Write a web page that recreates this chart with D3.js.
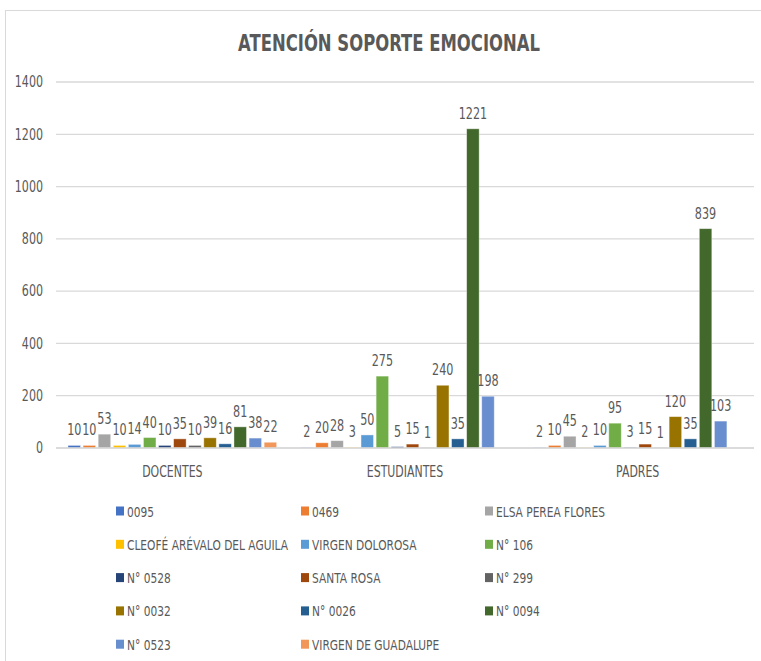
<!DOCTYPE html>
<html>
<head>
<meta charset="utf-8">
<script src="https://cdn.jsdelivr.net/npm/d3@7"></script>
<style>
  body { margin: 0; background: #fff; }
  text { font-family: "DejaVu Sans", sans-serif; fill: #595959; }
</style>
</head>
<body>
<svg id="chart"></svg>
<script>
// categories and series
let categories = ['DOCENTES', 'ESTUDIANTES', 'PADRES'];
let seriesNames = ['0095', '0469', 'ELSA PEREA FLORES', 'CLEOFÉ ARÉVALO DEL AGUILA', 'VIRGEN DOLOROSA', 'N° 106',
  'N° 0528', 'SANTA ROSA', 'N° 299', 'N° 0032', 'N° 0026', 'N° 0094', 'N° 0523', 'VIRGEN DE GUADALUPE'];
let seriesColors = ['#4472C4', '#ED7D31', '#A5A5A5', '#FFC000', '#5B9BD5', '#70AD47',
  '#264478', '#9E480E', '#636363', '#997300', '#255E91', '#43682B', '#698ED0', '#F1975A'];

// values per category, in series order (null = no value)
let docentes = [10, 10, 53, 10, 14, 40, 10, 35, 10, 39, 16, 81, 38, 22];
let estudiantes = [2, 20, 28, 3, 50, 275, 5, 15, 1, 240, 35, 1221, 198, null];
let padres = [2, 10, 45, 2, 10, 95, 3, 15, 1, 120, 35, 839, 103, null];

let yTicks = [0, 200, 400, 600, 800, 1000, 1200, 1400];

let values = [docentes, estudiantes, padres];

let width = 761, height = 661;
let margin = { top: 82, left: 56, right: 7, bottom: 213 };

let svg = d3.select('#chart').attr('width', width).attr('height', height);

// squeeze text horizontally around its x so it looks like the narrow office font
function squeeze(sel, k) {
  sel.each(function() {
    let x = +this.getAttribute('x') || 0;
    this.setAttribute('transform', `translate(${x},0) scale(${k},1) translate(${-x},0)`);
  });
}

// chart border
svg.append('rect')
  .attr('x', 5.5).attr('y', 10.5)
  .attr('width', 800).attr('height', 700)
  .attr('fill', 'none').attr('stroke', '#d9d9d9');

let title = svg.append('text')
  .attr('x', 389).attr('y', 51)
  .attr('text-anchor', 'middle')
  .style('font-size', '23px').style('font-weight', 'bold')
  .text('ATENCIÓN SOPORTE EMOCIONAL');
squeeze(title, 0.715);

let x0 = d3.scaleBand()
  .domain(categories)
  .range([margin.left, width - margin.right]);

let x1 = d3.scaleBand()
  .domain(seriesNames)
  .range([12, x0.bandwidth() - 12])
  .paddingInner(0.17);

let y = d3.scaleLinear()
  .domain([0, 1400])
  .range([height - margin.bottom, margin.top]);

// gridlines
svg.append('g')
  .selectAll('line')
  .data(yTicks)
  .enter().append('line')
  .attr('x1', margin.left).attr('x2', width - margin.right)
  .attr('y1', d => y(d)).attr('y2', d => y(d))
  .attr('stroke', '#d9d9d9').attr('stroke-width', 1.3);

// y axis labels
let axisY = d3.axisLeft(y).tickValues(yTicks).tickFormat(d3.format('d')).tickSize(0).tickPadding(13);
let gY = svg.append('g')
  .attr('transform', `translate(${margin.left},0)`)
  .call(axisY);
gY.select('.domain').remove();
gY.selectAll('text').style('font-size', '15px').style('font-family', null).attr('fill', '#595959');
squeeze(gY.selectAll('text'), 0.74);

// x axis labels
let axisX = d3.axisBottom(x0).tickSize(0).tickPadding(18);
let gX = svg.append('g')
  .attr('transform', `translate(0,${y(0)})`)
  .call(axisX);
gX.select('.domain').remove();
gX.selectAll('text').style('font-size', '15px').style('font-family', null).attr('fill', '#595959');
squeeze(gX.selectAll('text'), 0.73);

// bars
let groups = svg.append('g')
  .selectAll('g')
  .data(categories)
  .enter().append('g')
  .attr('transform', d => `translate(${x0(d)},0)`);

let cells = groups.selectAll('g.cell')
  .data((c, i) => values[i].map((v, j) => ({ name: seriesNames[j], color: seriesColors[j], value: v })))
  .enter().append('g').attr('class', 'cell');

cells.filter(d => d.value !== null)
  .append('rect')
  .attr('x', d => x1(d.name))
  .attr('width', x1.bandwidth())
  .attr('y', d => y(d.value))
  .attr('height', d => y(0) - y(d.value))
  .attr('fill', d => d.color)
  .attr('stroke', '#fff').attr('stroke-opacity', 0.5).attr('stroke-width', 0.8);

let labels = cells.filter(d => d.value !== null)
  .append('text')
  .attr('x', d => x1(d.name) + x1.bandwidth() / 2)
  .attr('y', d => y(d.value) - 10)
  .attr('text-anchor', 'middle')
  .style('font-size', '16px')
  .text(d => d.value);
squeeze(labels, 0.7);

// 0 axis line
svg.append('line')
  .attr('x1', margin.left).attr('x2', width - margin.right)
  .attr('y1', y(0)).attr('y2', y(0))
  .attr('stroke', '#d9d9d9').attr('stroke-width', 1.5);

// legend
let legendCols = [116, 301, 485];
let legend = svg.append('g')
  .selectAll('g')
  .data(seriesNames)
  .enter().append('g')
  .attr('transform', (d, i) => `translate(${legendCols[i % 3]},${511 + Math.floor(i / 3) * 33.3})`);

legend.append('rect')
  .attr('x', 0).attr('y', -4.5)
  .attr('width', 8).attr('height', 9)
  .attr('fill', (d, i) => seriesColors[i]);

let legendText = legend.append('text')
  .attr('x', 11).attr('y', 5.5)
  .style('font-size', '14px')
  .text(d => d);
squeeze(legendText, 0.76);
</script>
</body>
</html>
